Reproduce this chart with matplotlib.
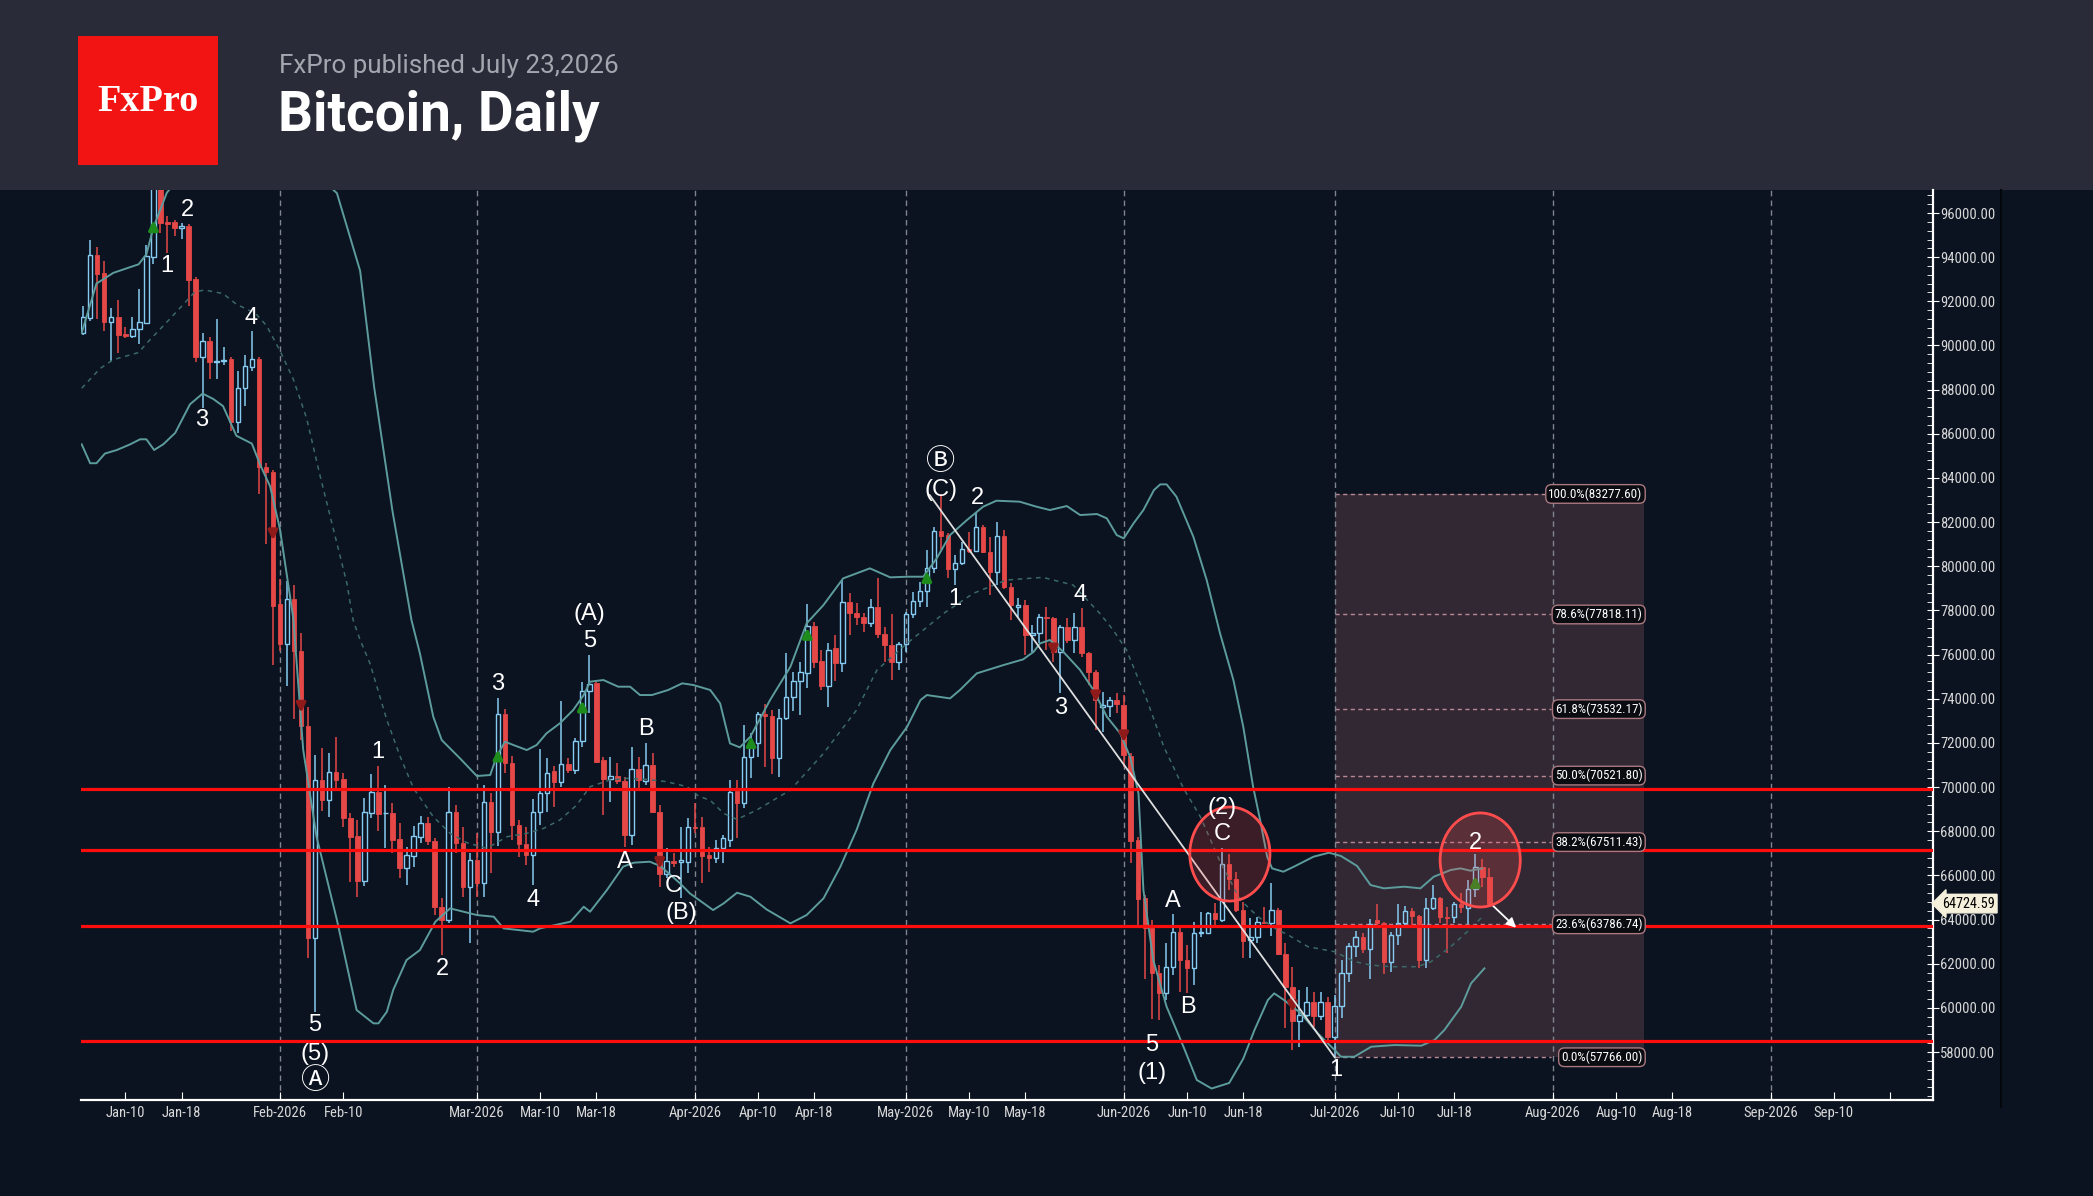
"""FxPro style Bitcoin daily chart: candles, Bollinger bands, Elliott labels, fib box."""

import numpy as np
import pandas as pd
import matplotlib
matplotlib.use("Agg")
import matplotlib.pyplot as plt
from matplotlib.patches import Rectangle, Ellipse
from matplotlib.lines import Line2D
from matplotlib.ticker import FormatStrFormatter, MultipleLocator
from matplotlib.transforms import blended_transform_factory

# ---------------- data ----------------
JAN1 = pd.Timestamp("2026-01-01")
FIRST_CANDLE = pd.Timestamp("2026-01-04")

OPEN = [
    90570, 91250, 94100, 93270, 91060, 91270, 90520, 90440, 90730, 91030,
    94020, 97200, 95600, 95590, 95310, 95420, 93000, 89470, 90220, 89250,
    89280, 89390, 86530, 88070, 89040, 89390, 84510, 84260, 78280, 76500,
    78520, 76180, 72770, 63150, 70320, 69415, 70670, 70350, 68615, 67784,
    65761, 68840, 69792, 68810, 68840, 67633, 66320, 66880, 67754, 68388,
    67573, 64554, 63980, 68886, 67452, 65490, 66697, 65640, 69339, 67980,
    73295, 71075, 68283, 67422, 66924, 68886, 69746, 70743, 70215, 71045,
    70774, 72102, 74351, 74699, 71226, 70366, 70517, 70290, 67830, 70819,
    70290, 71000, 68886, 66063, 66667, 66620, 66622, 68207, 68177, 66922,
    66771, 67225, 67602, 69837, 69263, 71377, 71981, 73294, 73218, 71301,
    73113, 74064, 74818, 75181, 77294, 75724, 74577, 76283, 75634, 78397,
    77868, 77717, 77415, 78170, 76932, 76434, 75679, 76464, 77838, 78442,
    78895, 79907, 81597, 81416, 79861, 80133, 80767, 80691, 81794, 80661,
    79756, 81371, 79076, 78170, 78246, 76887, 76963, 77717, 77672, 76132,
    77264, 76660, 77264, 76087, 75226, 73641, 73671, 73943, 73717, 71407,
    67600, 64962, 63603, 61595, 60659, 61837, 63422, 62169, 61791, 63376,
    63407, 64282, 63980, 66517, 65822, 64433, 63075, 63195, 63905, 63829,
    64433, 62440, 60961, 59421, 59677, 60282, 59632, 60282, 58667, 60100,
    61595, 62818, 63225, 62667, 64000, 63830, 62093, 63301, 63830, 64388,
    64162, 62169, 64539, 64962, 64101, 64101, 64705, 64539, 65369, 66366,
    65913,
]
HIGH = [
    91780, 94780, 94450, 93810, 91700, 92060, 90815, 91300, 92550, 94540,
    98000, 97700, 95880, 95670, 95540, 95510, 93080, 90570, 90380, 91220,
    89925, 89490, 88840, 89550, 90650, 89490, 84670, 84350, 79410, 79330,
    79170, 76990, 73640, 71450, 71750, 71528, 72253, 70653, 68811, 68509,
    69490, 70592, 70955, 70094, 69264, 68358, 67301, 68253, 68690, 68660,
    67679, 64961, 69988, 69188, 68207, 67000, 67935, 70094, 69716, 74049,
    73521, 71407, 68509, 68177, 69445, 71725, 71302, 70970, 73898, 71332,
    72208, 74774, 75982, 74774, 71377, 71377, 71075, 70441, 71800, 71347,
    71981, 71558, 69188, 67226, 67000, 68177, 68584, 69264, 68660, 67300,
    67602, 67829, 70320, 70300, 72811, 72433, 73415, 73762, 73490, 73520,
    76057, 75226, 75679, 78291, 77490, 76207, 76540, 76887, 79379, 78804,
    78321, 77868, 78502, 79454, 77264, 77838, 76585, 77944, 78850, 79303,
    80737, 81763, 83277.6, 81491, 80510, 81114, 81567, 82428, 81869, 81341,
    82020, 81643, 79227, 78548, 78472, 77340, 77838, 78170, 77717, 77340,
    77642, 77868, 78095, 76132, 75302, 74320, 74094, 74245, 74170, 71558,
    67753, 65113, 63980, 61942, 62923, 64237, 63754, 62848, 63905, 64358,
    64358, 64735, 67256, 66970, 66169, 64810, 64056, 64101, 64584, 65641,
    64509, 62923, 61867, 60810, 60961, 60735, 60735, 60508, 60584, 62169,
    62923, 63497, 63376, 64010, 64705, 63900, 63452, 64705, 64614, 64509,
    64207, 64961, 65566, 65037, 64584, 64810, 65188, 65792, 66970, 66728,
    66320,
]
LOW = [
    90490, 91090, 91220, 90650, 89280, 89680, 90330, 90330, 90090, 90980,
    93700, 95100, 94210, 94940, 94810, 91790, 89250, 87180, 88470, 88500,
    89117, 86120, 86040, 87260, 88830, 83290, 81030, 75530, 76180, 74560,
    73100, 72130, 62240, 59830, 68900, 68660, 69868, 68207, 65716, 65036,
    65535, 68584, 68026, 67226, 67000, 65867, 65565, 66396, 67482, 67377,
    64207, 62395, 63829, 67000, 65036, 62923, 65036, 65036, 66100, 67331,
    70622, 67603, 66818, 66471, 65565, 68283, 68886, 69113, 70019, 70622,
    70592, 71830, 73340, 71075, 68735, 69339, 70140, 67301, 67377, 69868,
    70094, 68810, 65490, 65867, 66396, 64961, 66094, 67900, 65641, 66168,
    66545, 66545, 67300, 67678, 69037, 70395, 71377, 70924, 70592, 70471,
    73037, 73460, 73264, 74471, 75377, 74396, 73641, 74818, 75226, 76887,
    77340, 77038, 77264, 76736, 75679, 74849, 75302, 76132, 77642, 78170,
    78140, 79680, 80737, 79454, 79152, 80057, 80616, 80661, 80586, 78699,
    79152, 78950, 77566, 77717, 75981, 76132, 76510, 76207, 75679, 74245,
    76510, 76057, 75906, 74622, 72585, 72509, 73188, 73339, 70924, 66547,
    63700, 61293, 59481, 59451, 60357, 61490, 60735, 60690, 61037, 63225,
    63346, 63754, 63900, 65339, 64358, 62244, 62244, 62923, 63799, 63256,
    62395, 59074, 58093, 58244, 59602, 59150, 59451, 58470, 57766, 59527,
    61187, 62320, 62470, 61293, 63600, 61535, 61640, 62848, 63754, 63678,
    61791, 61791, 64433, 63829, 62501, 63829, 64282, 63799, 65037, 65460,
    64660,
]
CLOSE = [
    91270, 94100, 93240, 91060, 91270, 90490, 90440, 90730, 91060, 94050,
    97500, 95550, 95500, 95300, 95430, 92970, 89470, 90220, 89250, 89300,
    89330, 86530, 88070, 89070, 89390, 84510, 84260, 78200, 76500, 78520,
    76180, 72780, 63150, 70320, 69415, 70668, 70320, 68615, 67754, 65761,
    68886, 69792, 68766, 68850, 67603, 66320, 66924, 67784, 68358, 67573,
    64554, 63980, 68886, 67452, 65490, 66697, 65640, 69339, 67980, 73295,
    71075, 68283, 67422, 66924, 68886, 69746, 70653, 70215, 71045, 70774,
    72102, 74351, 74653, 71151, 70366, 70517, 70290, 67830, 70819, 70320,
    71000, 68886, 66063, 66667, 66547, 66700, 68207, 68130, 66900, 66771,
    67256, 67678, 69791, 69263, 71377, 71981, 73294, 73218, 71301, 73113,
    74064, 74818, 75211, 77294, 75679, 74577, 76207, 75634, 78397, 77868,
    77717, 77445, 78170, 76932, 76434, 75679, 76464, 77838, 78442, 78895,
    79907, 81597, 81371, 79861, 80133, 80767, 80691, 81794, 80661, 79756,
    81371, 79076, 78246, 78246, 76887, 76993, 77717, 77672, 76132, 77264,
    76660, 77264, 76087, 75226, 73943, 73700, 73943, 73762, 71452, 67558,
    64950, 63603, 61595, 60659, 61837, 63422, 62169, 61791, 63376, 63452,
    64282, 64010, 66517, 65822, 64433, 63044, 63195, 63905, 63829, 64433,
    62440, 60961, 59421, 59677, 60282, 59632, 60282, 58667, 60100, 61595,
    62818, 63225, 62667, 63784, 63830, 62093, 63301, 63830, 64388, 64162,
    62169, 64539, 64962, 64101, 64056, 64705, 64584, 65369, 66366, 65913,
    64724.59,
]

# Bollinger bands, read as (day since Jan 1, price)
UPPER_DAY = [2.8, 4.9, 7.3, 10.9, 12.0, 13.0, 14.9, 20.0, 30.0, 39.1, 42.4, 44.4, 47.0,
             49.7, 50.9, 52.8, 54.0, 56.6, 59.0, 60.9, 61.8, 63.0, 64.2, 66.1, 67.5,
             68.9, 70.8, 72.7, 74.2, 75.1, 77.0, 79.1, 80.8, 82.2, 83.9, 86.2, 88.2,
             89.8, 92.2, 93.6, 95.0, 96.4, 97.9, 100.7, 103.6, 105.9, 108.3, 111.1,
             113.0, 114.9, 117.8, 120.2, 122.5, 124.4, 126.3, 128.7, 131.0, 132.9,
             136.2, 138.6, 140.5, 142.9, 144.8, 147.2, 148.6, 150.0, 151.0, 152.4,
             153.8, 155.3, 156.2, 157.1, 158.5, 160.9, 162.8, 164.7, 166.6, 168.0,
             169.4, 170.4, 171.4, 172.1, 173.7, 175.2, 178.0, 180.2, 181.9, 184.2,
             186.1, 188.0, 190.9, 193.2, 195.1, 197.5, 198.9, 200.3, 202.0]
UPPER = [90572, 92804, 93290, 93678, 94130, 95344, 96913, 99000, 99500, 96900, 93380,
         88100, 82500, 77567, 76057, 73189, 72132, 71302, 70502, 70547, 71377, 72057,
         71906, 71679, 71906, 72434, 72887, 73491, 74170, 74774, 74850, 74548, 74548,
         74170, 74170, 74397, 74699, 74623, 74396, 73792, 71980, 71800, 72283, 73943,
         75453, 77415, 78246, 79454, 79680, 79907, 79499, 79529, 79529, 80359, 81416,
         82095, 82699, 82971, 82926, 82699, 82548, 82729, 82322, 82367, 82171, 81416,
         81265, 81945, 82549, 83454, 83711, 83711, 83152, 81341, 79378, 76963, 74849,
         72736, 70018, 68509, 66849, 66320, 66169, 66396, 66849, 67030, 66879, 66426,
         65566, 65415, 65490, 65415, 65943, 66245, 66320, 66215, 66320]

MID_DAY = [2.8, 5.4, 7.3, 10.9, 12.0, 14.9, 16.8, 18.9, 20.3, 22.9, 24.8, 27.5, 29.1,
           31.0, 32.9, 34.8, 36.7, 38.6, 40.5, 41.4, 42.4, 43.8, 46.2, 48.1, 50.0,
           52.8, 55.2, 57.6, 60.4, 63.3, 66.1, 68.5, 70.8, 73.2, 75.1, 77.9, 80.3,
           83.2, 86.0, 88.9, 90.5, 92.2, 94.1, 96.0, 98.8, 103.6, 108.3, 113.0, 115.9,
           120.2, 122.5, 125.4, 129.6, 134.3, 139.5, 143.8, 147.6, 149.5, 151.4,
           154.3, 156.7, 159.5, 161.9, 164.6, 167.6, 170.1, 172.5, 174.4, 177.2,
           181.0, 183.9, 186.1, 189.0, 192.8, 194.7, 197.5, 200.4, 202.0]
MID = [88065, 88954, 89359, 89682, 90087, 91057, 91704, 92432, 92513, 92351, 91866,
       91462, 90895, 89763, 88470, 86690, 84102, 81676, 79250, 77567, 76662, 75604,
       73038, 71377, 69943, 68660, 67905, 67482, 67226, 67754, 67905, 68132, 68509,
       69188, 70019, 70321, 70396, 70351, 70245, 70019, 69600, 69400, 68810, 68538,
       68961, 69867, 71528, 73490, 75302, 76510, 77113, 77868, 78774, 79378, 79499,
       79152, 77869, 77114, 76208, 73943, 71830, 69943, 68660, 66698, 64886, 64131,
       63603, 63301, 62773, 62546, 62093, 61942, 61867, 61867, 62093, 62773, 63603,
       64131]

LOW_DAY = [2.8, 4.0, 4.9, 6.1, 7.8, 9.7, 11.1, 12.0, 13.1, 14.4, 16.1, 18.2, 20.0,
           21.5, 22.9, 24.8, 27.0, 28.2, 29.6, 31.0, 32.9, 34.3, 36.2, 39.1, 41.9,
           44.3, 45.0, 46.2, 47.1, 49.0, 50.9, 53.1, 55.2, 59.0, 61.4, 62.8, 67.0,
           68.0, 72.3, 74.2, 75.1, 77.5, 79.8, 81.3, 83.6, 85.1, 87.9, 89.3, 92.6,
           94.1, 96.0, 97.9, 100.2, 103.6, 105.9, 108.3, 110.7, 113.0, 115.4, 117.8,
           120.2, 122.1, 123.0, 126.3, 127.7, 130.1, 133.9, 136.7, 138.2, 139.1,
           140.5, 142.4, 144.8, 146.7, 148.6, 150.5, 151.9, 153.1, 153.8, 155.2,
           157.1, 159.5, 161.4, 163.5, 166.0, 168.0, 169.6, 171.5, 172.4, 173.8,
           176.2, 178.6, 181.0, 181.9, 183.8, 186.2, 189.5, 193.3, 195.2, 196.6,
           199.0, 200.4, 202.3]
LOWER = [85525, 84668, 84668, 85105, 85267, 85525, 85752, 85752, 85267, 85525, 86043,
         87337, 87822, 87580, 87256, 85913, 85557, 84587, 83617, 81676, 77632, 71700,
         67754, 63980, 59904, 59300, 59300, 59828, 60810, 62168, 62621, 63905, 64508,
         64206, 64131, 63603, 63452, 63603, 63905, 64584, 64357, 65339, 66396, 66577,
         66622, 66426, 65641, 65187, 64432, 64734, 65217, 65036, 64462, 63829, 64206,
         64961, 66394, 68055, 70169, 71678, 72735, 73943, 74169, 74018, 74396, 75151,
         75528, 75785, 76132, 76510, 76661, 76132, 75302, 74396, 73188, 72434, 71377,
         69716, 65339, 62169, 60055, 58243, 56734, 56350, 56600, 57700, 59000, 60357,
         60659, 60357, 59753, 58847, 58093, 57790, 57790, 58243, 58319, 58289, 58545,
         58998, 60055, 61112, 61792]

RED_LEVELS = [69920, 67150, 63730, 58480]

FIB_PCT = [100.0, 78.6, 61.8, 50.0, 38.2, 23.6, 0.0]
FIB_VAL = [83277.60, 77818.11, 73532.17, 70521.80, 67511.43, 63786.74, 57766.00]
FIB_FROM, FIB_TO = "2026-07-01", "2026-08-14"

TREND_DAY = [123.4, 181.0]
TREND_VAL = [83228, 57766]

WAVE_LABELS = [
    (17.9, 96140, "2"), (14.9, 93620, "1"), (26.9, 91230, "4"), (19.9, 86640, "3"),
    (44.9, 71570, "1"), (54.1, 61750, "2"), (62.0, 74690, "3"), (67.0, 64890, "4"),
    (75.0, 77840, "(A)"), (75.0, 76600, "5"),
    (83.1, 72650, "B"), (80.1, 66600, "A"), (86.9, 65500, "C"), (88.1, 64290, "(B)"),
    (36.0, 59230, "5"), (36.0, 57900, "(5)"), (36.0, 56700, "\u24b6"),
    (125.0, 84720, "\u24b7"), (125.0, 83440, "(C)"),
    (130.2, 83080, "2"), (127.0, 78540, "1"), (144.8, 78680, "4"), (142.1, 73590, "3"),
    (158.0, 64820, "A"), (160.2, 60030, "B"), (155.0, 58330, "5"), (155.0, 57070, "(1)"),
    (165.0, 69040, "(2)"), (165.0, 67880, "C"), (181.1, 57190, "1"), (201.0, 67480, "2"),
]
CIRCLE_DAY = [166.1, 201.7]
CIRCLE_VAL = [66970, 66700]

UP_SIGNAL = [(13, 95420), (62, 71450), (74, 73670), (98, 72060), (106, 76960),
             (123, 79530), (201, 65720)]
DOWN_SIGNAL = [(30, 81430), (34, 73620), (85, 66550), (141, 76210), (147, 74090),
               (151, 72280), (175, 60060)]

TICK_DATES = ["2026-01-10", "2026-01-18", "2026-02-01", "2026-02-10", "2026-03-01",
              "2026-03-10", "2026-03-18", "2026-04-01", "2026-04-10", "2026-04-18",
              "2026-05-01", "2026-05-10", "2026-05-18", "2026-06-01", "2026-06-10",
              "2026-06-18", "2026-07-01", "2026-07-10", "2026-07-18", "2026-08-01",
              "2026-08-10", "2026-08-18", "2026-09-01", "2026-09-10", "2026-09-18"]
LAST_PRICE = 64724.59

# ---------------- styling ----------------
W, H = 2093, 1196
BG = "#0b1220"
HEADER = "#292c38"
BLUE = "#86ccf2"
RED = "#e64848"
BAND = "#5d9c9c"
NARROW = ["Roboto Condensed", "Archivo Narrow", "Roboto", "DejaVu Sans"]
CIRCLED = ["Noto Sans CJK JP", "DejaVu Sans"]


def day(ts):
    return (pd.Timestamp(ts) - JAN1).days


def main():
    fig = plt.figure(figsize=(W / 100, H / 100), dpi=100, facecolor=BG)

    # header band and logo
    fig.add_artist(Rectangle((0, 1 - 190 / H), 1, 190 / H, transform=fig.transFigure,
                             facecolor=HEADER, edgecolor="none", zorder=0))
    fig.add_artist(Rectangle((78 / W, 1 - 165 / H), 140 / W, 129 / H,
                             transform=fig.transFigure, facecolor="#f21313",
                             edgecolor="none", zorder=1))
    fig.text(148 / W, 1 - 111 / H, "FxPro", ha="center", va="baseline", color="white",
             fontsize=27.5, weight="bold", family=["Liberation Serif", "DejaVu Serif"])
    fig.text(279 / W, 1 - 73 / H, "FxPro published July 23,2026", va="baseline",
             color="#a3a6ae", fontsize=18.7, family=["Roboto", "DejaVu Sans"])
    fig.text(278 / W, 1 - 131 / H, "Bitcoin, Daily", va="baseline", color="white",
             fontsize=39.5, family=["Roboto", "DejaVu Sans"], weight="bold")

    ax = fig.add_axes([81 / W, 1 - 1100 / H, (1933 - 81) / W, (1100 - 190) / H])
    ax.set_facecolor(BG)

    o, hi, lo, c = (np.array(a, dtype=float) for a in (OPEN, HIGH, LOW, CLOSE))
    x = day(FIRST_CANDLE) + np.arange(len(o))
    up = c >= o
    body_top, body_bot = np.maximum(o, c), np.minimum(o, c)

    # fib retracement box
    f0, f1 = day(FIB_FROM), day(FIB_TO)
    ax.add_patch(Rectangle((f0, min(FIB_VAL)), f1 - f0, max(FIB_VAL) - min(FIB_VAL),
                           facecolor="#322834", edgecolor="none", zorder=0.5))
    for pct, val in zip(FIB_PCT, FIB_VAL):
        ax.plot([f0, f1 - 13.2], [val, val], color="#b88893", lw=1, ls=(0, (3, 2.5)),
                zorder=1)
        ax.text(f1 - 0.2, val, f"{pct:.1f}%({val:.2f})", ha="right", va="center",
                color="white", fontsize=9.4, family=NARROW, zorder=7,
                bbox=dict(boxstyle="round,pad=0.2,rounding_size=0.45", fc="#0a0c11",
                          ec="#a9787f", lw=1))

    # month separators
    for m in pd.date_range("2026-02-01", "2026-09-01", freq="MS"):
        ax.axvline(day(m), color="#80848e", lw=1, ls=(0, (4, 3)), zorder=1.2)

    # candles
    wick_col = np.where(up, BLUE, RED)
    ax.vlines(x, body_top, hi, colors=wick_col, lw=1.1, zorder=2)
    ax.vlines(x, lo, body_bot, colors=wick_col, lw=1.1, zorder=2)
    ax.bar(x[up], (c - o)[up], bottom=o[up], width=0.64, facecolor="none",
           edgecolor=BLUE, lw=1.0, zorder=2.1)
    ax.bar(x[~up], (c - o)[~up], bottom=o[~up], width=0.64, facecolor=RED,
           edgecolor=RED, lw=0.6, zorder=2.1)

    # Bollinger bands
    ax.plot(UPPER_DAY, UPPER, color=BAND, lw=1.4, zorder=3)
    ax.plot(LOW_DAY, LOWER, color=BAND, lw=1.4, zorder=3)
    ax.plot(MID_DAY, MID, color="#3a6968", lw=1.1, ls=(0, (3, 3)), zorder=3)

    # signal arrows
    for d, p in UP_SIGNAL:
        ax.annotate("", xy=(d, p + 380), xytext=(d, p - 330),
                    arrowprops=dict(arrowstyle="-|>", color="#1d8c1d", lw=2.6,
                                    mutation_scale=13), zorder=3.5)
    for d, p in DOWN_SIGNAL:
        ax.annotate("", xy=(d, p - 380), xytext=(d, p + 330),
                    arrowprops=dict(arrowstyle="-|>", color="#8e1a1a", lw=2.6,
                                    mutation_scale=13), zorder=3.5)

    # key horizontal levels
    for v in RED_LEVELS:
        ax.axhline(v, color="#ff0c0c", lw=2.3, zorder=4)

    # trend line and projection arrow
    ax.plot(TREND_DAY, TREND_VAL, color="#dedede", lw=1.3, zorder=4.5)
    ax.annotate("", xy=(x[-1] + 4.1, LAST_PRICE - 1180), xytext=(x[-1] + 0.2, LAST_PRICE),
                arrowprops=dict(arrowstyle="-|>", color="white", lw=1.3,
                                mutation_scale=14), zorder=4.5)

    for d, p in zip(CIRCLE_DAY, CIRCLE_VAL):
        ax.add_patch(Ellipse((d, p), 11.4, 4260, facecolor=(1, 0.3, 0.3, 0.2),
                             edgecolor="#ff4d4d", lw=2, zorder=5))

    for d, p, t in WAVE_LABELS:
        if t in ("\u24b6", "\u24b7"):
            fam, size = CIRCLED, 21
        else:
            fam, size = ["Liberation Sans", "DejaVu Sans"], 17
        ax.text(d, p, t, ha="center", va="center", color="white", fontsize=size,
                family=fam, zorder=6)

    # axes, ticks
    ax.set_xlim(2.7, 266.1)
    ax.set_ylim(55830, 97042)
    ticks = [day(t) for t in TICK_DATES]
    labels = []
    for t in TICK_DATES:
        ts = pd.Timestamp(t)
        if ts.month == 9 and ts.day == 18:
            labels.append("")
        elif ts.day == 1:
            labels.append(ts.strftime("%b-%Y"))
        else:
            labels.append(ts.strftime("%b-%d"))
    ax.set_xticks(ticks)
    ax.set_xticklabels(labels, family=NARROW, fontsize=10.5, color="#d8d8d8")
    ax.tick_params(axis="x", direction="in", length=6, color="white", pad=4)

    ax.yaxis.tick_right()
    ax.set_yticks(np.arange(58000, 96001, 2000))
    ax.yaxis.set_major_formatter(FormatStrFormatter("%.2f"))
    ax.yaxis.set_minor_locator(MultipleLocator(400))
    ax.tick_params(axis="y", which="major", direction="inout", length=8, color="white",
                   labelcolor="#d8d8d8", labelsize=10.5, pad=1)
    ax.tick_params(axis="y", which="minor", direction="in", length=4, color="white")
    for lab in ax.get_yticklabels():
        lab.set_family(NARROW)

    for side in ("top", "left"):
        ax.spines[side].set_visible(False)
    for side in ("right", "bottom"):
        ax.spines[side].set_color("white")
        ax.spines[side].set_linewidth(1.6)

    # last price tag
    tr = blended_transform_factory(ax.transAxes, ax.transData)
    ax.text(1.0 + 9 / 1852, LAST_PRICE, f"{LAST_PRICE:.2f}", transform=tr, ha="left",
            va="center", fontsize=10.3, color="black", family=NARROW, zorder=8,
            clip_on=False,
            bbox=dict(boxstyle="larrow,pad=0.16", fc="#f4f0dc", ec="#f4f0dc"))

    fig.add_artist(Line2D([2001 / W, 2001 / W], [1 - 1107 / H, 1 - 190 / H],
                          transform=fig.transFigure, color="#04070c", lw=1.5))

    fig.savefig("out.png", dpi=100, facecolor=BG)


if __name__ == "__main__":
    main()
